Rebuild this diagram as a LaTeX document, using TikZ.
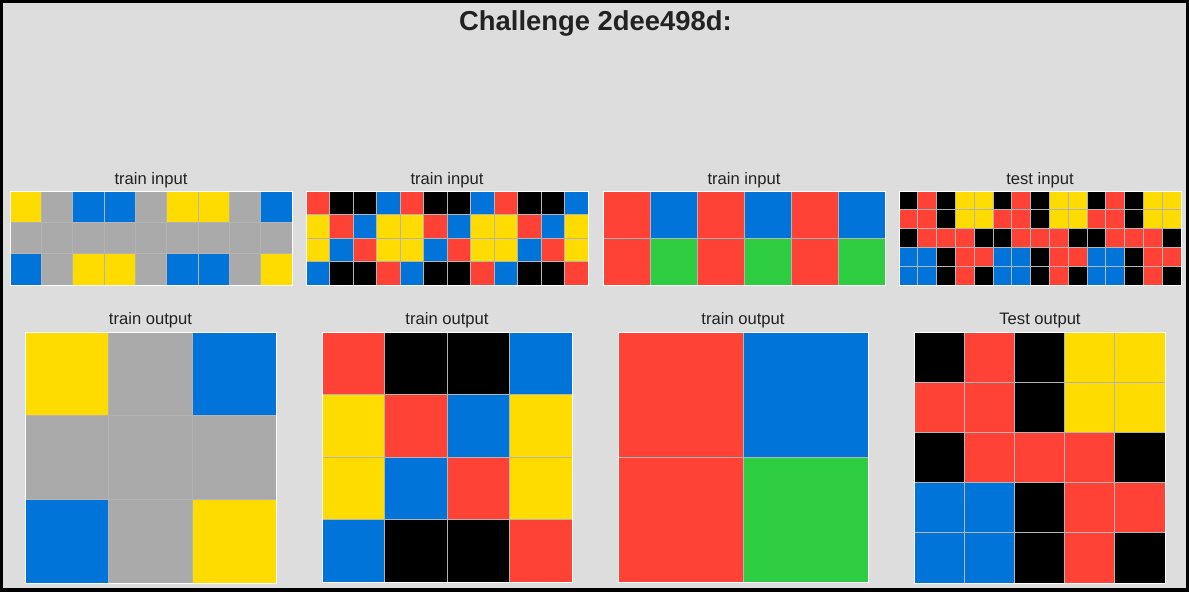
\documentclass[tikz,border=0pt]{standalone}
\usepackage{fontspec}
\setmainfont{Liberation Sans}
\definecolor{cK}{HTML}{000000}
\definecolor{cB}{HTML}{0074D9}
\definecolor{cR}{HTML}{FF4136}
\definecolor{cG}{HTML}{2ECC40}
\definecolor{cY}{HTML}{FFDC00}
\definecolor{cA}{HTML}{AAAAAA}
\definecolor{bg}{HTML}{DDDDDD}
\definecolor{txt}{HTML}{222222}
\definecolor{gridline}{HTML}{B4B4B4}
\tikzset{
  lbl/.style={text=txt, font=\fontsize{16.6}{18}\selectfont, inner sep=0pt, anchor=base},
  ttl/.style={text=txt, font=\bfseries\fontsize{27.4}{30}\selectfont, inner sep=0pt, anchor=base},
  cell/.style={draw=gridline, line width=0.7pt},
  outer/.style={draw=white, line width=0.9pt}
}
% #1 x0, #2 y0, #3 cell, #4 cols, #5 rows, #6 color rows
\newcommand{\arcgrid}[6]{%
  \foreach \row [count=\r from 0] in {#6} {
    \foreach \c [count=\q from 0] in \row {
      \fill[\c] (#1+\q*#3, #2+\r*#3) rectangle ++(#3,#3);
    }
  }
  \foreach \q in {1,...,#4} { \ifnum\q<#4\relax \draw[cell] (#1+\q*#3,#2) -- ++(0,#5*#3);\fi }
  \foreach \r in {1,...,#5} { \ifnum\r<#5\relax \draw[cell] (#1,#2+\r*#3) -- ++(#4*#3,0);\fi }
  \draw[outer] (#1,#2) rectangle ++(#4*#3,#5*#3);
}
\begin{document}
\begin{tikzpicture}[x=1pt,y=-1pt]
\fill[black] (0,0) rectangle (1189,592);
\fill[bg] (3,3) rectangle (1186,588);
\useasboundingbox (0,0) rectangle (1189,592);
\node[ttl] (title) at (595.5,30) {Challenge 2dee498d:};

\node[lbl] (l1) at (151,184) {train input};
\node[lbl] (l2) at (447,184) {train input};
\node[lbl] (l3) at (744,184) {train input};
\node[lbl] (l4) at (1040,184) {test input};
\node[lbl] (o1) at (150.5,324) {train output};
\node[lbl] (o2) at (447,324) {train output};
\node[lbl] (o3) at (743,324) {train output};
\node[lbl] (o4) at (1040,324) {Test output};

\arcgrid{10}{191}{31.333}{9}{3}{{cY,cA,cB,cB,cA,cY,cY,cA,cB},{cA,cA,cA,cA,cA,cA,cA,cA,cA},{cB,cA,cY,cY,cA,cB,cB,cA,cY}}
\arcgrid{306}{191}{23.5}{12}{4}{{cR,cK,cK,cB,cR,cK,cK,cB,cR,cK,cK,cB},{cY,cR,cB,cY,cY,cR,cB,cY,cY,cR,cB,cY},{cY,cB,cR,cY,cY,cB,cR,cY,cY,cB,cR,cY},{cB,cK,cK,cR,cB,cK,cK,cR,cB,cK,cK,cR}}
\arcgrid{603}{191}{47}{6}{2}{{cR,cB,cR,cB,cR,cB},{cR,cG,cR,cG,cR,cG}}
\arcgrid{899}{191}{18.8}{15}{5}{{cK,cR,cK,cY,cY,cK,cR,cK,cY,cY,cK,cR,cK,cY,cY},{cR,cR,cK,cY,cY,cR,cR,cK,cY,cY,cR,cR,cK,cY,cY},{cK,cR,cR,cR,cK,cK,cR,cR,cR,cK,cK,cR,cR,cR,cK},{cB,cB,cK,cR,cR,cB,cB,cK,cR,cR,cB,cB,cK,cR,cR},{cB,cB,cK,cR,cK,cB,cB,cK,cR,cK,cB,cB,cK,cR,cK}}

\arcgrid{25}{332}{83.667}{3}{3}{{cY,cA,cB},{cA,cA,cA},{cB,cA,cY}}
\arcgrid{322}{332}{62.5}{4}{4}{{cR,cK,cK,cB},{cY,cR,cB,cY},{cY,cB,cR,cY},{cB,cK,cK,cR}}
\arcgrid{618}{332}{125}{2}{2}{{cR,cB},{cR,cG}}
\arcgrid{914}{332}{50.2}{5}{5}{{cK,cR,cK,cY,cY},{cR,cR,cK,cY,cY},{cK,cR,cR,cR,cK},{cB,cB,cK,cR,cR},{cB,cB,cK,cR,cK}}
\end{tikzpicture}
\end{document}
